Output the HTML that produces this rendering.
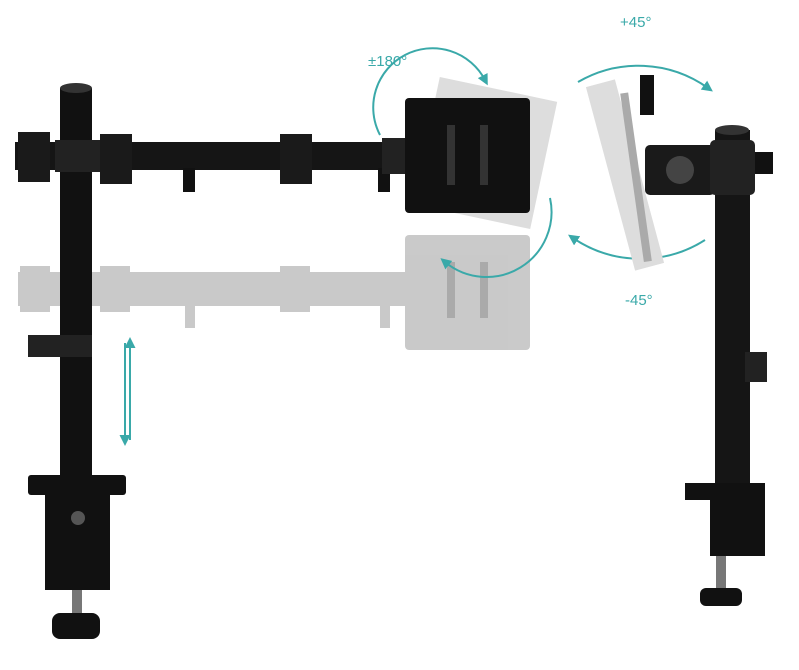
<!DOCTYPE html>
<html><head><meta charset="utf-8"><style>
html,body{margin:0;padding:0;background:#fff;width:799px;height:670px;overflow:hidden}
text{font-family:"Liberation Sans",sans-serif}
</style></head><body>
<svg width="799" height="670" viewBox="0 0 799 670" xmlns="http://www.w3.org/2000/svg">
<defs>
<marker id="ah" markerUnits="userSpaceOnUse" markerWidth="11" markerHeight="11" refX="5" refY="5.5" orient="auto-start-reverse"><path d="M0,0 L11,5.5 L0,11 z" fill="#3aa9a9"/></marker>
</defs>
<g fill="#c4c4c4" opacity="0.9">
<rect x="18" y="272" width="395" height="34"/>
<rect x="20" y="266" width="30" height="46"/>
<rect x="100" y="266" width="30" height="46"/>
<rect x="280" y="266" width="30" height="46"/>
<rect x="185" y="300" width="10" height="28"/>
<rect x="380" y="300" width="10" height="28"/>
<rect x="405" y="235" width="125" height="115" rx="4"/>
</g>
<g fill="#aaa"><rect x="447" y="262" width="8" height="56"/><rect x="480" y="262" width="8" height="56"/></g>
<rect x="60" y="88" width="32" height="395" fill="#111"/>
<ellipse cx="76" cy="88" rx="16" ry="5" fill="#333"/>
<rect x="28" y="335" width="64" height="22" fill="#222"/>
<rect x="15" y="142" width="400" height="28" fill="#151515"/>
<rect x="18" y="132" width="32" height="50" fill="#1a1a1a"/>
<rect x="55" y="140" width="45" height="32" fill="#222"/>
<rect x="100" y="134" width="32" height="50" fill="#1a1a1a"/>
<rect x="280" y="134" width="32" height="50" fill="#1a1a1a"/>
<rect x="183" y="168" width="12" height="24" fill="#111"/>
<rect x="378" y="168" width="12" height="24" fill="#111"/>
<rect x="382" y="138" width="28" height="36" fill="#222"/>
<rect x="425" y="88" width="120" height="130" fill="#ddd" transform="rotate(12 485 153)"/>
<rect x="405" y="98" width="125" height="115" rx="4" fill="#111"/>
<rect x="447" y="125" width="8" height="60" fill="#333"/><rect x="480" y="125" width="8" height="60" fill="#333"/>
<rect x="28" y="475" width="98" height="20" rx="3" fill="#111"/>
<rect x="45" y="492" width="65" height="98" fill="#111"/>
<circle cx="78" cy="518" r="7" fill="#555"/>
<rect x="72" y="590" width="10" height="30" fill="#777"/>
<rect x="52" y="613" width="48" height="26" rx="8" fill="#111"/>
<g stroke="#3aa9a9" stroke-width="2" fill="none">
<line x1="125" y1="343" x2="125" y2="440" marker-end="url(#ah)"/>
<line x1="130" y1="440" x2="130" y2="343" marker-end="url(#ah)"/>
<path d="M380 135 A55 55 0 0 1 485 80" marker-end="url(#ah)"/>
<path d="M550 198 A65 65 0 0 1 445 262" marker-end="url(#ah)"/>
<path d="M578 82 A120 120 0 0 1 708 88" marker-end="url(#ah)"/>
<path d="M705 240 A120 120 0 0 1 573 238" marker-end="url(#ah)"/>
</g>
<text x="368" y="66" font-size="15" fill="#3aa9a9">±180°</text>
<text x="620" y="27" font-size="15" fill="#3aa9a9">+45°</text>
<text x="625" y="305" font-size="15" fill="#3aa9a9">-45°</text>
<g fill="#ddd"><rect x="610" y="80" width="30" height="190" transform="rotate(-15 625 175)"/></g>
<rect x="632" y="92" width="8" height="170" fill="#aaa" transform="rotate(-8 638 177)"/>
<rect x="640" y="75" width="14" height="40" fill="#111"/>
<rect x="715" y="130" width="35" height="360" fill="#151515"/>
<ellipse cx="732" cy="130" rx="17" ry="5" fill="#333"/>
<rect x="645" y="145" width="70" height="50" rx="5" fill="#1a1a1a"/>
<circle cx="680" cy="170" r="14" fill="#444"/>
<rect x="710" y="140" width="45" height="55" rx="5" fill="#222"/>
<rect x="755" y="152" width="18" height="22" fill="#111"/>
<rect x="745" y="352" width="22" height="30" fill="#222"/>
<rect x="685" y="483" width="80" height="17" fill="#111"/>
<rect x="710" y="498" width="55" height="58" fill="#111"/>
<rect x="716" y="556" width="10" height="34" fill="#777"/>
<rect x="700" y="588" width="42" height="18" rx="6" fill="#111"/>
</svg>
</body></html>
